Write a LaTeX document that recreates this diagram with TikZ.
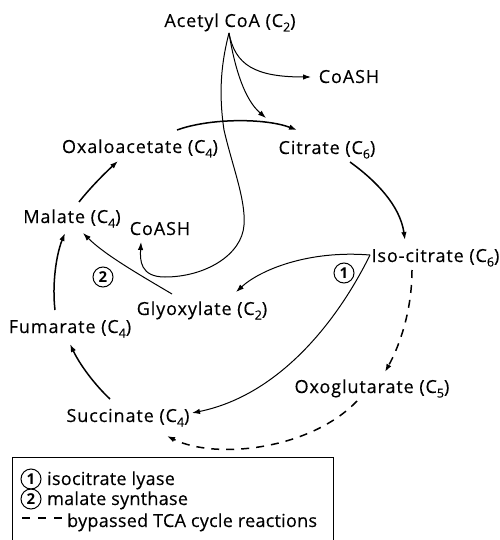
\documentclass[tikz,border=0pt]{standalone}
\usepackage{fontspec}
\setmainfont{Open Sans}
\newfontfamily\lblfont[LetterSpace=5,FakeBold=0.3]{Open Sans}
\newfontfamily\legfont[LetterSpace=1.5,FakeBold=0.3]{Open Sans}
\usetikzlibrary{arrows.meta}
\newcommand{\sub}[1]{\raisebox{-4.5pt}{\fontsize{12.5}{12}\selectfont #1}}
\begin{document}
\begin{tikzpicture}[x=1pt,y=-1pt,
  lbl/.style={font=\lblfont\fontsize{18}{20}\selectfont, inner sep=0pt, anchor=base},
  leg/.style={font=\legfont\fontsize{18}{20}\selectfont, inner sep=0pt, anchor=base west},
  circ/.style={circle, draw, line width=1pt, minimum size=20pt, inner sep=0pt, font=\fontsize{15}{18}\selectfont\bfseries},
  cyc/.style={line width=1.5pt, -{Latex[length=8pt,width=5.5pt]}},
  shunt/.style={line width=1pt, -{Latex[length=8pt,width=5.5pt]}},
  byp/.style={line width=1.5pt, dash pattern=on 8pt off 7pt, -{Latex[length=8pt,width=5.5pt]}}
]
\useasboundingbox (0,0) rectangle (499,540);
% labels
\node[lbl] (acetyl) at (230,27) {Acetyl CoA (C\sub{2})};
\node[lbl] (coash1) at (349,83) {CoASH};
\node[lbl] (oxalo) at (140,153) {Oxaloacetate (C\sub{4})};
\node[lbl] (citrate) at (327,154) {Citrate (C\sub{6})};
\node[lbl] (malate) at (72,223) {Malate (C\sub{4})};
\node[lbl] (coash2) at (160,235) {CoASH};
\node[lbl] (iso) at (435.5,262) {Iso-citrate (C\sub{6})};
\node[lbl] (glyox) at (202,315) {Glyoxylate (C\sub{2})};
\node[lbl] (fum) at (70,333) {Fumarate (C\sub{4})};
\node[lbl] (oxog) at (372,393) {Oxoglutarate (C\sub{5})};
\node[lbl] (succ) at (128,422) {Succinate (C\sub{4})};
\node[circ] (c1) at (344,273) {1};
\node[circ] (c2) at (103,277) {2};
% connector end points
\coordinate (apex) at (229,33);
\coordinate (isoapex) at (370,255);
% acetyl CoA branches
\draw[shunt] (apex) .. controls (235,65) and (255,77) .. (311,77);
\draw[shunt] (apex) .. controls (235,70) and (245,100) .. (266,118);
\draw[shunt] (apex) .. controls (222,60) and (218,90) .. (224,130)
  .. controls (232,165) and (246,200) .. (244,225)
  .. controls (242,255) and (205,277) .. (165,277)
  .. controls (140,277) and (140,260) .. (141,242);
% TCA cycle
\draw[cyc] (177,130) .. controls (210,118) and (265,118) .. (297,130);
\draw[cyc] (350,162) .. controls (375,180) and (400,205) .. (405,240);
\draw[cyc] (79,202) .. controls (90,188) and (104,174) .. (118,161);
\draw[cyc] (55,310) .. controls (52,285) and (56,255) .. (65,233);
\draw[cyc] (110,399) .. controls (95,385) and (80,365) .. (70,344);
% glyoxylate shunt
\draw[shunt] (172,294) .. controls (140,275) and (105,255) .. (83,233);
\draw[shunt] (isoapex) .. controls (308,250) and (260,270) .. (236,292);
\draw[shunt] (isoapex) .. controls (338,320) and (280,395) .. (192,413);
% bypassed
\draw[byp] (412,270) .. controls (412,310) and (400,345) .. (385,372);
\draw[byp] (357,401) .. controls (310,450) and (215,460) .. (167,436);
% legend
\draw[line width=1pt] (12,541) -- (12,457) -- (333,457) -- (333,541);
\node[circ] (l1) at (31,479) {1};
\node[leg] (t1) at (47,485) {isocitrate lyase};
\node[circ] (l2) at (31,499) {2};
\node[leg] (t2) at (47,505) {malate synthase};
\coordinate (d1) at (22,518);
\coordinate (d2) at (62,518);
\draw[line width=1.5pt, dash pattern=on 8pt off 8pt] (d1) -- (d2);
\node[leg] (t3) at (67,527) {bypassed TCA cycle reactions};
\end{tikzpicture}
\end{document}
